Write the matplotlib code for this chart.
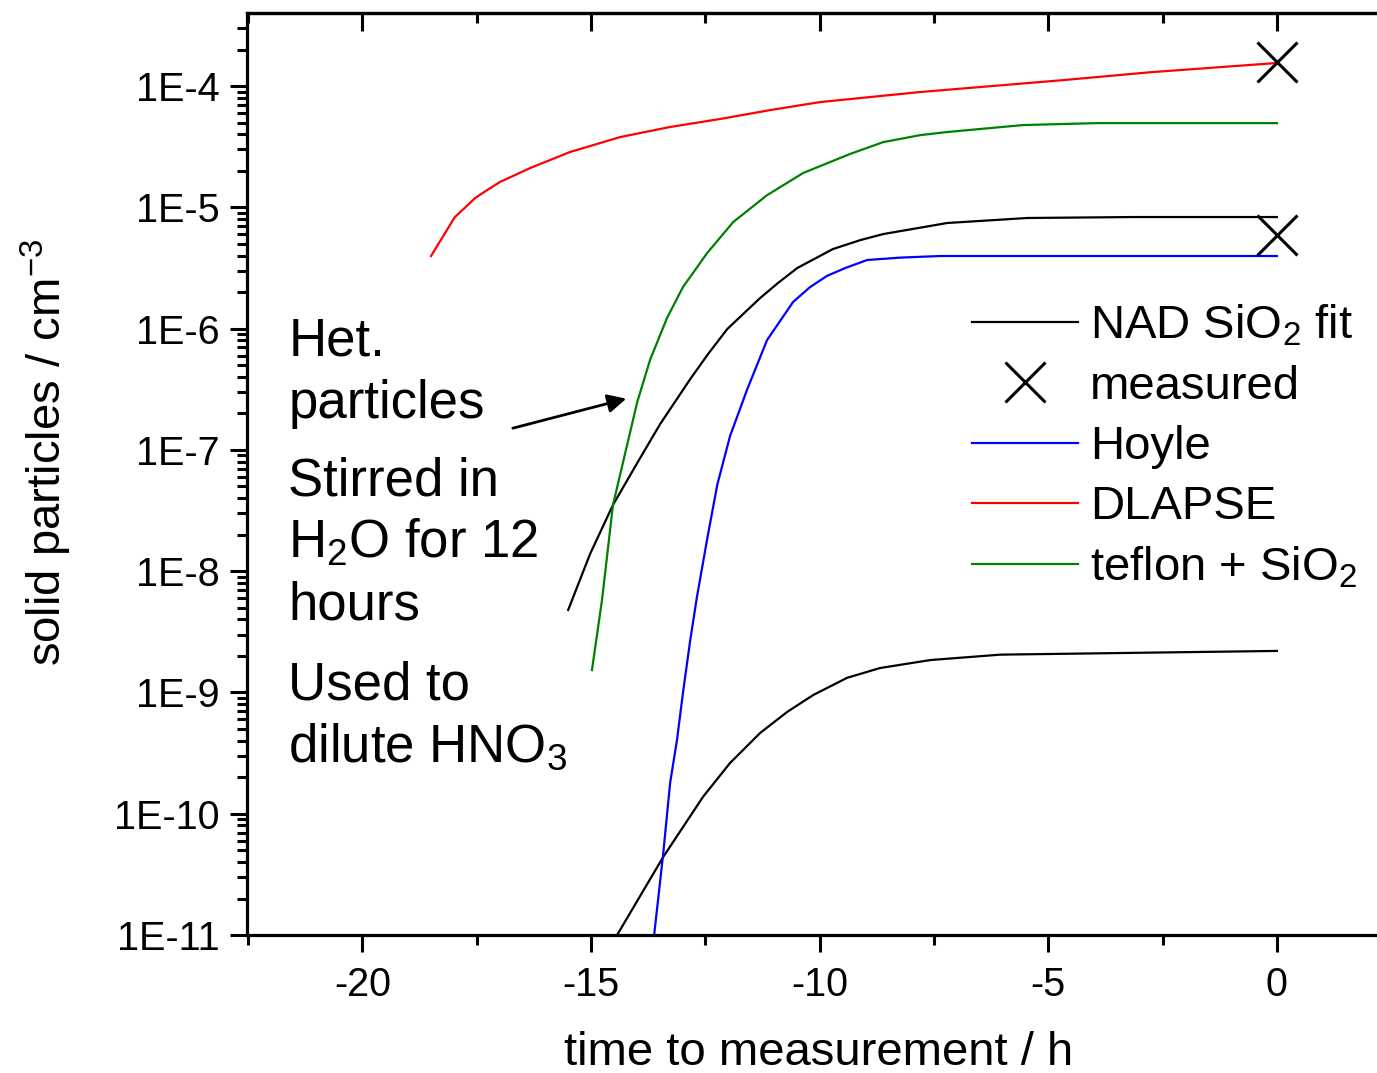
import matplotlib.pyplot as plt
import numpy as np
from matplotlib.lines import Line2D
from matplotlib.ticker import FuncFormatter, LogLocator, MultipleLocator, NullFormatter

plt.rcParams["font.family"] = ["Liberation Sans", "DejaVu Sans"]
plt.rcParams["mathtext.fontset"] = "custom"
plt.rcParams["mathtext.rm"] = "Liberation Sans"
plt.rcParams["mathtext.default"] = "regular"
plt.rcParams["axes.unicode_minus"] = False

dlapse_t = [-18.50, -17.98, -17.75, -17.54, -17.27, -16.99, -16.33, -15.46,
            -14.36, -13.27, -12.18, -11.08, -9.99, -7.80, -4.67, -2.77, 0.0]
dlapse_n = [3.97e-6, 8.3e-6, 1.0e-5, 1.19e-5, 1.39e-5, 1.62e-5, 2.11e-5, 2.86e-5,
            3.80e-5, 4.6e-5, 5.35e-5, 6.34e-5, 7.38e-5, 8.93e-5, 1.12e-4, 1.30e-4,
            1.55e-4]

teflon_t = [-14.98, -14.76, -14.52, -13.99, -13.71, -13.34, -12.99, -12.46,
            -11.89, -11.15, -10.36, -9.34, -8.61, -7.80, -7.21, -5.55, -3.93, 0.0]
teflon_n = [1.53e-9, 5.8e-9, 3.52e-8, 2.48e-7, 5.51e-7, 1.22e-6, 2.20e-6, 4.20e-6,
            7.57e-6, 1.26e-5, 1.92e-5, 2.75e-5, 3.45e-5, 3.94e-5, 4.18e-5, 4.77e-5,
            4.95e-5, 4.95e-5]

nad_hi_t = [-15.50, -15.02, -14.52, -13.99, -13.49, -12.83, -12.44, -12.02,
            -11.30, -10.91, -10.49, -9.71, -9.11, -8.61, -7.21, -5.46, -3.14, 0.0]
nad_hi_n = [4.79e-9, 1.39e-8, 3.52e-8, 7.80e-8, 1.63e-7, 3.84e-7, 6.18e-7, 9.93e-7,
            1.79e-6, 2.38e-6, 3.16e-6, 4.53e-6, 5.37e-6, 6.02e-6, 7.43e-6, 8.17e-6,
            8.32e-6, 8.32e-6]

nad_lo_t = [-14.43, -13.42, -12.55, -11.96, -11.30, -10.71, -10.14, -9.40,
            -8.68, -7.58, -6.05, 0.0]
nad_lo_n = [1.0e-11, 4.41e-11, 1.38e-10, 2.62e-10, 4.64e-10, 6.91e-10, 9.53e-10,
            1.32e-9, 1.59e-9, 1.85e-9, 2.05e-9, 2.2e-9]

hoyle_t = [-13.62, -13.42, -13.27, -13.12, -12.99, -12.83, -12.68, -12.46,
           -12.24, -11.96, -11.59, -11.15, -10.58, -10.21, -9.84, -9.44, -8.96,
           -8.24, -7.36, 0.0]
hoyle_n = [1.0e-11, 4.75e-11, 1.80e-10, 4.06e-10, 9.9e-10, 2.71e-9, 6.25e-9,
           1.84e-8, 5.14e-8, 1.30e-7, 3.12e-7, 8.05e-7, 1.66e-6, 2.2e-6, 2.72e-6,
           3.16e-6, 3.68e-6, 3.85e-6, 3.97e-6, 3.97e-6]

measured_t = [0.0, 0.0]
measured_n = [1.58e-4, 5.95e-6]

note_lines = ["Het.", "particles", "Stirred in", "H$_2$O for 12", "hours",
              "Used to", "dilute HNO$_3$"]

fig = plt.figure(figsize=(13.77, 10.73), dpi=100)
ax = fig.add_axes([0.1792, 0.1286, 0.8208, 0.8590])

lw = 1.6
ax.plot(nad_hi_t, nad_hi_n, color="black", lw=lw)
ax.plot(nad_lo_t, nad_lo_n, color="black", lw=lw)
ax.plot(hoyle_t, hoyle_n, color="#0000ff", lw=lw)
ax.plot(dlapse_t, dlapse_n, color="#ff0000", lw=lw)
ax.plot(teflon_t, teflon_n, color="#008000", lw=lw)
ax.plot(measured_t, measured_n, ls="none", marker="x", ms=29, mew=2.2,
        color="black", clip_on=False)

ax.set_yscale("log")
ax.set_xlim(-22.53, 2.19)
ax.set_ylim(1e-11, 10 ** -3.40)

ax.xaxis.set_major_locator(MultipleLocator(5))
ax.xaxis.set_minor_locator(MultipleLocator(2.5))
ax.yaxis.set_major_locator(LogLocator(base=10, numticks=20))
ax.yaxis.set_minor_locator(LogLocator(base=10, subs=np.arange(2, 10), numticks=20))
ax.yaxis.set_minor_formatter(NullFormatter())
ax.yaxis.set_major_formatter(FuncFormatter(lambda v, p: f"1E{int(round(np.log10(v)))}"))

for side in ("left", "bottom", "top"):
    ax.spines[side].set_linewidth(2.3)
ax.spines["right"].set_visible(False)

ax.tick_params(which="major", direction="out", length=12.5, width=2.2,
               labelsize=28.5)
ax.tick_params(which="minor", direction="out", length=7, width=2.2)
ax.tick_params(axis="x", which="both", top=False, pad=10)
ax.tick_params(axis="y", which="both", right=False, pad=7)

top = ax.secondary_xaxis("top")
top.xaxis.set_major_locator(MultipleLocator(5))
top.xaxis.set_minor_locator(MultipleLocator(2.5))
top.tick_params(which="major", direction="in", length=13, width=2.2, labeltop=False)
top.tick_params(which="minor", direction="in", length=7, width=2.2)
top.spines["top"].set_linewidth(2.3)

ax.set_xlabel("time to measurement / h", fontsize=34)
ax.set_ylabel("solid particles / cm$^{-3}$", fontsize=34)
ax.xaxis.set_label_coords(0.506, -0.1040)
ax.yaxis.set_label_coords(-0.1527, 0.524)

handles = [
    Line2D([], [], color="black", lw=lw),
    Line2D([], [], color="black", ls="none", marker="x", ms=29, mew=2.2),
    Line2D([], [], color="#0000ff", lw=lw),
    Line2D([], [], color="#ff0000", lw=lw),
    Line2D([], [], color="#008000", lw=lw),
]
labels = ["NAD SiO$_2$ fit", "measured", "Hoyle", "DLAPSE", "teflon + SiO$_2$"]
ax.legend(handles, labels, loc="upper left", bbox_to_anchor=(0.706, 0.7172),
          bbox_transform=fig.transFigure, frameon=False, fontsize=34,
          handlelength=2.24, handletextpad=0.26, labelspacing=0.34,
          borderpad=0, borderaxespad=0, numpoints=1)

# annotation text, one line at a time (baselines in log10 units)
note_y = [-6.218, -6.737, -7.372, -7.891, -8.402, -9.062, -9.573]
for line, y in zip(note_lines, note_y):
    ax.text(-21.62, 10 ** y, line, fontsize=38, va="baseline", ha="left")

ax.annotate("", xy=(-14.17, 2.68e-7), xytext=(-16.77, 1.49e-7),
            arrowprops=dict(arrowstyle="-|>", color="black", lw=2,
                            mutation_scale=28))

fig.savefig("out.png", dpi=100)
